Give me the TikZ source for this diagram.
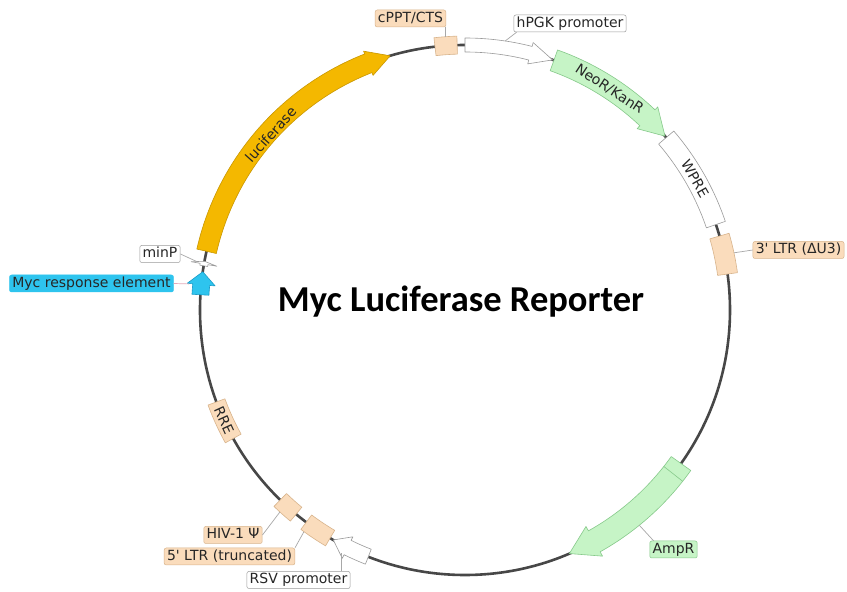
\documentclass[tikz,border=0pt]{standalone}
\usepackage{fontspec}
\setmainfont{DejaVu Sans}[Ligatures=TeXOff]
\newfontfamily\titlefont{Carlito}
\definecolor{peach}{HTML}{FADCBC}
\definecolor{peachdraw}{HTML}{D8B48C}
\definecolor{mint}{HTML}{C6F4C6}
\definecolor{mintdraw}{HTML}{86C98A}
\definecolor{gold}{HTML}{F4B800}
\definecolor{golddraw}{HTML}{C99700}
\definecolor{skyb}{HTML}{2EC4EE}
\definecolor{skybdraw}{HTML}{1A9CC8}
\definecolor{bbone}{HTML}{474747}
\definecolor{leadc}{HTML}{A8A8A8}
\definecolor{whitedraw}{HTML}{9A9A9A}
\definecolor{pinklead}{HTML}{E4A8B8}
\def\R{265}
% clockwise arc arrow: style, start angle, end angle (tip), half width, head half width, head length (deg)
\newcommand{\cwarrow}[6]{%
  \path[#1] ({#2}:{\R+#4}) arc[start angle={#2}, end angle={#3+#6}, radius={\R+#4}]
    -- ({#3+#6}:{\R+#5}) -- ({#3}:{\R}) -- ({#3+#6}:{\R-#5}) -- ({#3+#6}:{\R-#4})
    arc[start angle={#3+#6}, end angle={#2}, radius={\R-#4}] -- cycle;}
% arc box: style, start angle, end angle, half width
\newcommand{\arcbox}[4]{%
  \path[#1] ({#2}:{\R+#4}) arc[start angle={#2}, end angle={#3}, radius={\R+#4}]
    -- ({#3}:{\R-#4}) arc[start angle={#3}, end angle={#2}, radius={\R-#4}] -- cycle;}
\begin{document}
\begin{tikzpicture}[x=1pt,y=1pt,
  lbl/.style={rectangle, rounded corners=2pt, inner xsep=2.8pt, inner ysep=1.8pt,
    text height=10.4pt, text depth=3pt, font=\fontsize{14}{16}\selectfont, text=black!85, line width=0.5pt},
  peachlbl/.style={lbl, fill=peach, draw=peachdraw},
  whitelbl/.style={lbl, fill=white, draw=whitedraw},
  greenlbl/.style={lbl, fill=mint, draw=mintdraw},
  cyanlbl/.style={lbl, fill=skyb, draw=skyb},
  leader/.style={draw=leadc, line width=0.7pt},
  featfont/.style={font=\fontsize{14}{16}\selectfont, text=black!85, inner sep=0pt},
  lucfeat/.style={fill=gold, draw=golddraw, line width=0.6pt, line join=round},
  whitefeat/.style={fill=white, draw=whitedraw, line width=0.6pt, line join=round},
  greenfeat/.style={fill=mint, draw=mintdraw, line width=0.6pt, line join=round},
  peachfeat/.style={fill=peach, draw=peachdraw, line width=0.6pt, line join=round},
  cyanfeat/.style={fill=skyb, draw=skybdraw, line width=0.6pt, line join=round}]
\useasboundingbox (0,0) rectangle (847,592);
\fill[white] (0,0) rectangle (847,592);
\begin{scope}[shift={(465,282)}]
  \draw[bbone, line width=2.6pt] (0,0) circle[radius=\R];
  % features
  \cwarrow{lucfeat}{167.2}{106.4}{10}{13}{5}
  \cwarrow{whitefeat}{90}{70.7}{7}{11}{5}
  \cwarrow{greenfeat}{70.4}{41}{11}{15}{5.5}
  \arcbox{whitefeat}{40.6}{18.8}{10}
  \arcbox{peachfeat}{16.2}{7.8}{10}
  \cwarrow{greenfeat}{-35.4}{-66.8}{12}{17}{6}
  \draw[mintdraw, line width=0.6pt] (-38.2:{\R-12}) -- (-38.2:{\R+12});
  \cwarrow{whitefeat}{248.6}{240.2}{8}{12}{3.5}
  \arcbox{peachfeat}{239.4}{233.2}{9}
  \arcbox{peachfeat}{230.4}{225.8}{9}
  \arcbox{peachfeat}{209}{200.3}{9}
  \cwarrow{cyanfeat}{176.7}{171.7}{8.5}{14}{2.8}
  \cwarrow{whitefeat}{170.4}{169.4}{4}{13}{0.6}
  \arcbox{peachfeat}{96.5}{91.7}{9}
  % texts on features
  \node[featfont, rotate=47.9] (luctext) at (137.9:262) {luciferase};
  \node[featfont, rotate=-33.2] (neotext) at (56.8:264) {NeoR/KanR};
  \node[featfont, rotate=-60.3] (wpretext) at (29.7:265) {WPRE};
  \node[featfont, rotate=-65.4] (rretext) at (204.6:265) {RRE};
  % leader anchor points
  \coordinate (cpptF) at (94.1:274);
  \coordinate (hpgkF) at (81.5:272);
  \coordinate (ltr3F) at (12:275);
  \coordinate (amprF) at (-51:277);
  \coordinate (rsvF) at (-117:273);
  \coordinate (ltr5F) at (234:274);
  \coordinate (hivF) at (227.5:274);
  \coordinate (mycF) at (174.6:277);
  \coordinate (minpF) at (169.8:272);
\end{scope}
% labels
\node[peachlbl] (cpptlab) at (410.5,573.5) {cPPT/CTS};
\node[whitelbl] (hpgklab) at (570,568.5) {hPGK promoter};
\node[peachlbl] (ltr3lab) at (798.5,342) {3' LTR (ΔU3)};
\node[greenlbl] (amprlab) at (673.5,42.5) {AmpR};
\node[whitelbl] (rsvlab) at (298.5,12) {RSV promoter};
\node[peachlbl] (ltr5lab) at (229.5,35.5) {5' LTR (truncated)};
\node[peachlbl] (hivlab) at (233,57) {HIV-1 Ψ};
\node[cyanlbl] (myclab) at (91.5,308.5) {Myc response element};
\node[whitelbl] (minplab) at (160,338) {minP};
% leaders
\draw[leader] (cpptF) -- (cpptF |- cpptlab.south);
\draw[leader] (hpgkF) -- ([xshift=3pt]hpgklab.south west);
\draw[leader] (ltr3F) -- (ltr3lab.west);
\draw[leader] (amprF) -- ([xshift=4pt]amprlab.north west);
\draw[leader] (rsvF) -- (rsvF |- rsvlab.north);
\draw[leader] (ltr5F) -- (ltr5lab.north east);
\draw[leader] (hivF) -- (hivlab.east);
\draw[leader, draw=pinklead] (mycF) -- (myclab.east);
\draw[leader] (minpF) -- (minplab.east);
% title
\node[font=\titlefont\bfseries\fontsize{36.5}{40}\selectfont, anchor=base] (title) at (461,280) {Myc Luciferase Reporter};
\end{tikzpicture}
\end{document}
